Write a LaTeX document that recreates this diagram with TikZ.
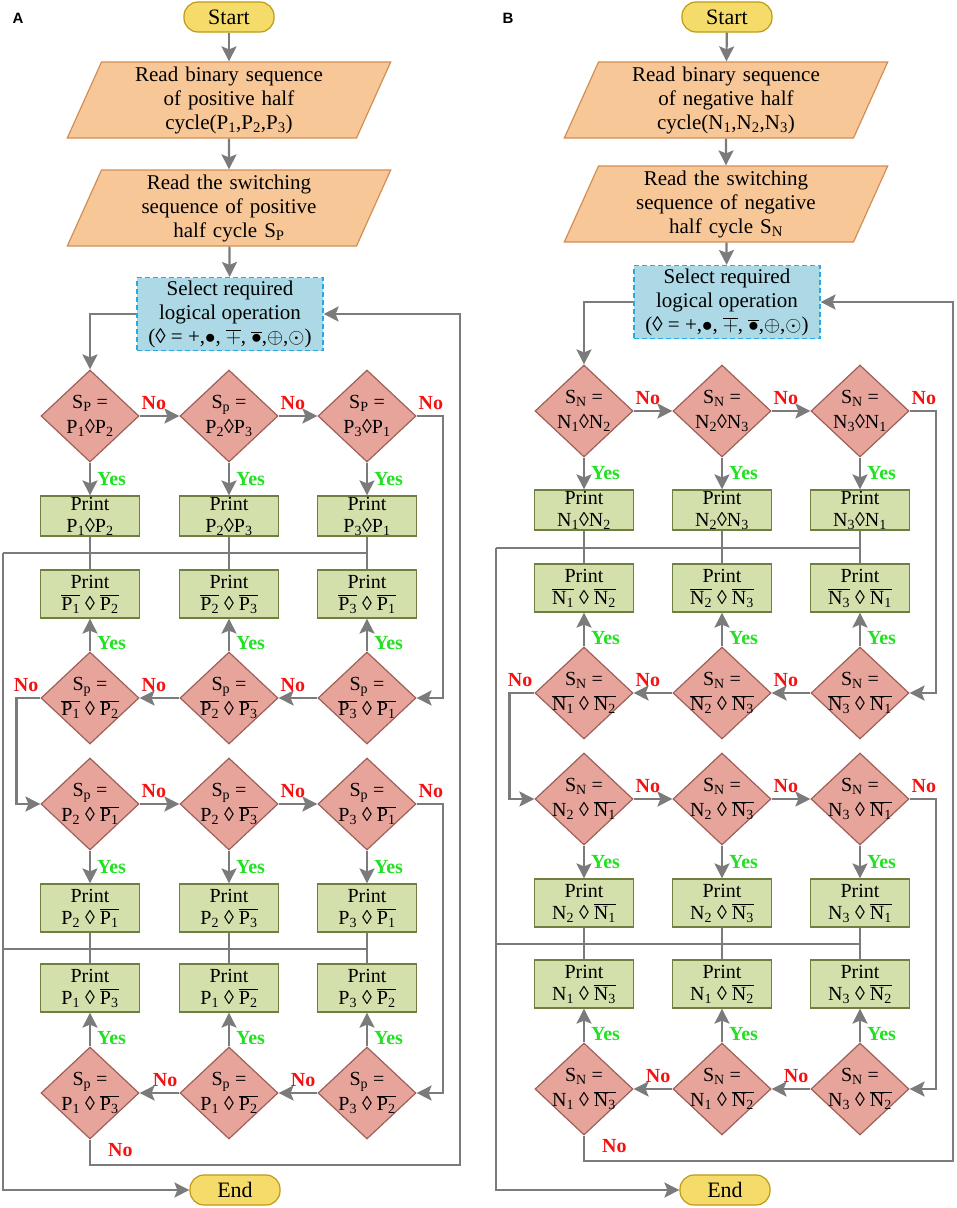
\documentclass[tikz,border=0pt]{standalone}
\usepackage{fontspec}
\setmainfont{Liberation Serif}
\setsansfont{Liberation Sans}
\usetikzlibrary{shapes.geometric,arrows.meta}
\definecolor{linegray}{HTML}{7B7B7B}
\definecolor{termfill}{HTML}{F5DC6A}
\definecolor{termedge}{HTML}{BF9A10}
\definecolor{iofill}{HTML}{F8C797}
\definecolor{ioedge}{HTML}{D18F55}
\definecolor{selfill}{HTML}{ADD9E6}
\definecolor{seledge}{HTML}{27A9E1}
\definecolor{decfill}{HTML}{E6A49B}
\definecolor{decedge}{HTML}{9E5F58}
\definecolor{prfill}{HTML}{D4E0AB}
\definecolor{predge}{HTML}{6F7F3F}
\definecolor{yesgreen}{HTML}{22E022}
\definecolor{nored}{HTML}{F21212}
% signal with subscript, and its complement
\newcommand{\sg}[2]{$\mathrm{#1}_{\mathrm{#2}}$}
\newcommand{\nsg}[2]{$\overline{\mathrm{#1}_{\mathrm{#2}}}$}
% two lines of text that do not widen a diamond
\newcommand{\dtxt}[2]{\makebox[0pt]{\begin{tabular}{@{}c@{}}#1\\#2\end{tabular}}}
\begin{document}
\begin{tikzpicture}[x=1pt, y=-1pt,
  term/.style={rectangle, rounded corners=14pt, fill=termfill, draw=termedge, line width=1.2pt, minimum width=90pt, minimum height=30pt, inner sep=0pt, font=\fontsize{22}{24}\selectfont},
  io/.style={trapezium, trapezium left angle=63, trapezium right angle=117, trapezium stretches body, fill=iofill, draw=ioedge, line width=1.2pt, text width=255pt, align=center, inner sep=0pt, minimum height=76pt, font=\fontsize{21}{24}\selectfont},
  sel/.style={rectangle, fill=selfill, draw=seledge, dash pattern=on 5pt off 3pt, line width=1.2pt, minimum width=186pt, minimum height=73pt, inner sep=0pt, align=center, font=\fontsize{21}{24}\selectfont},
  dec/.style={diamond, fill=decfill, draw=decedge, line width=1.2pt, minimum width=98pt, minimum height=92pt, inner sep=0pt, font=\fontsize{20}{25}\selectfont},
  prt/.style={rectangle, fill=prfill, draw=predge, line width=1.2pt, minimum width=99pt, minimum height=48pt, inner sep=0pt, align=center, font=\fontsize{20}{22}\selectfont},
  line/.style={draw=linegray, line width=2.2pt},
  arr/.style={line, -{Stealth[length=15pt, width=15pt, inset=3pt]}},
  yeslbl/.style={text=yesgreen, font=\bfseries\fontsize{20}{20}\selectfont, inner sep=1pt, xshift=5pt},
  nolbl/.style={text=nored, font=\bfseries\fontsize{20}{20}\selectfont, inner sep=1pt, yshift=4pt},
  panel/.style={font=\sffamily\bfseries\fontsize{15}{15}\selectfont}]
\useasboundingbox (0,0) rectangle (957,1208);

% ---------- panel A : positive half cycle
\node[panel] (labA) at (18,18) {A};
\node[term] (startA) at (229,17) {Start};
\node[io] (readA1) at (229,100) {Read binary sequence\\of positive half\\cycle(\sg{P}{1},\sg{P}{2},\sg{P}{3})};
\node[io] (readA2) at (229,208) {Read the switching\\sequence of positive\\half cycle \sg{S}{P}};
\node[sel] (selA) at (230,314) {Select required\\logical operation\\(◊ = +,$\bullet$, $\overline{+}$, $\overline{\bullet}$,$\oplus$,$\odot$)};
\node[dec] (dA11) at (90,416) {\dtxt{\sg{S}{P} =}{\sg{P}{1}◊\sg{P}{2}}};
\node[dec] (dA12) at (229,416) {\dtxt{\sg{S}{p} =}{\sg{P}{2}◊\sg{P}{3}}};
\node[dec] (dA13) at (367,416) {\dtxt{\sg{S}{P} =}{\sg{P}{3}◊\sg{P}{1}}};
\node[prt, minimum height=40pt] (pA11) at (90,516) {Print\\\sg{P}{1}◊\sg{P}{2}};
\node[prt, minimum height=40pt] (pA12) at (229,516) {Print\\\sg{P}{2}◊\sg{P}{3}};
\node[prt, minimum height=40pt] (pA13) at (367,516) {Print\\\sg{P}{3}◊\sg{P}{1}};
\node[prt] (pA21) at (90,594) {Print\\\nsg{P}{1} ◊ \nsg{P}{2}};
\node[prt] (pA22) at (229,594) {Print\\\nsg{P}{2} ◊ \nsg{P}{3}};
\node[prt] (pA23) at (367,594) {Print\\\nsg{P}{3} ◊ \nsg{P}{1}};
\node[dec] (dA21) at (90,698) {\dtxt{\sg{S}{p} =}{\nsg{P}{1} ◊ \nsg{P}{2}}};
\node[dec] (dA22) at (229,698) {\dtxt{\sg{S}{p} =}{\nsg{P}{2} ◊ \nsg{P}{3}}};
\node[dec] (dA23) at (367,698) {\dtxt{\sg{S}{p} =}{\nsg{P}{3} ◊ \nsg{P}{1}}};
\node[dec] (dA31) at (90,804) {\dtxt{\sg{S}{p} =}{\sg{P}{2} ◊ \nsg{P}{1}}};
\node[dec] (dA32) at (229,804) {\dtxt{\sg{S}{p} =}{\sg{P}{2} ◊ \nsg{P}{3}}};
\node[dec] (dA33) at (367,804) {\dtxt{\sg{S}{p} =}{\sg{P}{3} ◊ \nsg{P}{1}}};
\node[prt] (pA31) at (90,908) {Print\\\sg{P}{2} ◊ \nsg{P}{1}};
\node[prt] (pA32) at (229,908) {Print\\\sg{P}{2} ◊ \nsg{P}{3}};
\node[prt] (pA33) at (367,908) {Print\\\sg{P}{3} ◊ \nsg{P}{1}};
\node[prt] (pA41) at (90,988) {Print\\\sg{P}{1} ◊ \nsg{P}{3}};
\node[prt] (pA42) at (229,988) {Print\\\sg{P}{1} ◊ \nsg{P}{2}};
\node[prt] (pA43) at (367,988) {Print\\\sg{P}{3} ◊ \nsg{P}{2}};
\node[dec] (dA41) at (90,1093) {\dtxt{\sg{S}{p} =}{\sg{P}{1} ◊ \nsg{P}{3}}};
\node[dec] (dA42) at (229,1093) {\dtxt{\sg{S}{p} =}{\sg{P}{1} ◊ \nsg{P}{2}}};
\node[dec] (dA43) at (367,1093) {\dtxt{\sg{S}{p} =}{\sg{P}{3} ◊ \nsg{P}{2}}};
\node[term] (endA) at (235,1190) {End};
\coordinate (jA1) at (3,553);
\coordinate (jA2) at (3,949);
\coordinate (rA) at (460,1165);

\draw[arr] (startA) -- (readA1);
\draw[arr] (readA1) -- (readA2);
\draw[arr] (readA2) -- (selA);
\draw[arr] (selA.west) -| (dA11.north);
\draw[arr] (dA11) -- node[nolbl, pos=0, anchor=south west] {No} (dA12);
\draw[arr] (dA12) -- node[nolbl, pos=0, anchor=south west] {No} (dA13);
\draw[arr] (dA13.east) -- node[nolbl, pos=0, anchor=south west] {No} ++(26,0) |- (dA23.east);
\draw[arr] (dA11) -- node[yeslbl, right] {Yes} (pA11);
\draw[arr] (dA12) -- node[yeslbl, right] {Yes} (pA12);
\draw[arr] (dA13) -- node[yeslbl, right] {Yes} (pA13);
\draw[line] (pA11) -- (pA21);
\draw[line] (pA12) -- (pA22);
\draw[line] (pA13) -- (pA23);
\draw[line] (pA13 |- jA1) -- (jA1);
\draw[arr] (jA1) |- (endA);
\draw[arr] (dA21) -- node[yeslbl, right, pos=0.25] {Yes} (pA21);
\draw[arr] (dA22) -- node[yeslbl, right, pos=0.25] {Yes} (pA22);
\draw[arr] (dA23) -- node[yeslbl, right, pos=0.25] {Yes} (pA23);
\draw[arr] (dA23) -- node[nolbl, pos=1, anchor=south west] {No} (dA22);
\draw[arr] (dA22) -- node[nolbl, pos=1, anchor=south west] {No} (dA21);
\draw[arr] (dA21.west) -- node[nolbl, pos=0, anchor=south east] {No} ++(-24,0) |- (dA31.west);
\draw[arr] (dA31) -- node[nolbl, pos=0, anchor=south west] {No} (dA32);
\draw[arr] (dA32) -- node[nolbl, pos=0, anchor=south west] {No} (dA33);
\draw[arr] (dA33.east) -- node[nolbl, pos=0, anchor=south west] {No} ++(26,0) |- (dA43.east);
\draw[arr] (dA31) -- node[yeslbl, right] {Yes} (pA31);
\draw[arr] (dA32) -- node[yeslbl, right] {Yes} (pA32);
\draw[arr] (dA33) -- node[yeslbl, right] {Yes} (pA33);
\draw[line] (pA31) -- (pA41);
\draw[line] (pA32) -- (pA42);
\draw[line] (pA33) -- (pA43);
\draw[line] (pA33 |- jA2) -- (jA2);
\draw[arr] (dA41) -- node[yeslbl, right, pos=0.25] {Yes} (pA41);
\draw[arr] (dA42) -- node[yeslbl, right, pos=0.25] {Yes} (pA42);
\draw[arr] (dA43) -- node[yeslbl, right, pos=0.25] {Yes} (pA43);
\draw[arr] (dA43) -- node[nolbl, pos=0, anchor=south east] {No} (dA42);
\draw[arr] (dA42) -- node[nolbl, pos=0, anchor=south east] {No} (dA41);
\draw[arr] (dA41.south) |- node[nolbl, pos=0, anchor=north west, xshift=16pt, yshift=-6pt] {No} (rA) |- (selA.east);

% ---------- panel B : negative half cycle
\node[panel] (labB) at (508,18) {B};
\node[term] (startB) at (727,17) {Start};
\node[io] (readB1) at (726,100) {Read binary sequence\\of negative half\\cycle(\sg{N}{1},\sg{N}{2},\sg{N}{3})};
\node[io] (readB2) at (726,204) {Read the switching\\sequence of negative\\half cycle \sg{S}{N}};
\node[sel] (selB) at (727,302) {Select required\\logical operation\\(◊ = +,$\bullet$, $\overline{+}$, $\overline{\bullet}$,$\oplus$,$\odot$)};
\node[dec] (dB11) at (584,411) {\dtxt{\sg{S}{N} =}{\sg{N}{1}◊\sg{N}{2}}};
\node[dec] (dB12) at (722,411) {\dtxt{\sg{S}{N} =}{\sg{N}{2}◊\sg{N}{3}}};
\node[dec] (dB13) at (860,411) {\dtxt{\sg{S}{N} =}{\sg{N}{3}◊\sg{N}{1}}};
\node[prt, minimum height=40pt] (pB11) at (584,510) {Print\\\sg{N}{1}◊\sg{N}{2}};
\node[prt, minimum height=40pt] (pB12) at (722,510) {Print\\\sg{N}{2}◊\sg{N}{3}};
\node[prt, minimum height=40pt] (pB13) at (860,510) {Print\\\sg{N}{3}◊\sg{N}{1}};
\node[prt] (pB21) at (584,588) {Print\\\nsg{N}{1} ◊ \nsg{N}{2}};
\node[prt] (pB22) at (722,588) {Print\\\nsg{N}{2} ◊ \nsg{N}{3}};
\node[prt] (pB23) at (860,588) {Print\\\nsg{N}{3} ◊ \nsg{N}{1}};
\node[dec] (dB21) at (584,693) {\dtxt{\sg{S}{N} =}{\nsg{N}{1} ◊ \nsg{N}{2}}};
\node[dec] (dB22) at (722,693) {\dtxt{\sg{S}{N} =}{\nsg{N}{2} ◊ \nsg{N}{3}}};
\node[dec] (dB23) at (860,693) {\dtxt{\sg{S}{N} =}{\nsg{N}{3} ◊ \nsg{N}{1}}};
\node[dec] (dB31) at (584,799) {\dtxt{\sg{S}{N} =}{\sg{N}{2} ◊ \nsg{N}{1}}};
\node[dec] (dB32) at (722,799) {\dtxt{\sg{S}{N} =}{\sg{N}{2} ◊ \nsg{N}{3}}};
\node[dec] (dB33) at (860,799) {\dtxt{\sg{S}{N} =}{\sg{N}{3} ◊ \nsg{N}{1}}};
\node[prt] (pB31) at (584,903) {Print\\\sg{N}{2} ◊ \nsg{N}{1}};
\node[prt] (pB32) at (722,903) {Print\\\sg{N}{2} ◊ \nsg{N}{3}};
\node[prt] (pB33) at (860,903) {Print\\\sg{N}{3} ◊ \nsg{N}{1}};
\node[prt] (pB41) at (584,984) {Print\\\sg{N}{1} ◊ \nsg{N}{3}};
\node[prt] (pB42) at (722,984) {Print\\\sg{N}{1} ◊ \nsg{N}{2}};
\node[prt] (pB43) at (860,984) {Print\\\sg{N}{3} ◊ \nsg{N}{2}};
\node[dec] (dB41) at (584,1089) {\dtxt{\sg{S}{N} =}{\sg{N}{1} ◊ \nsg{N}{3}}};
\node[dec] (dB42) at (722,1089) {\dtxt{\sg{S}{N} =}{\sg{N}{1} ◊ \nsg{N}{2}}};
\node[dec] (dB43) at (860,1089) {\dtxt{\sg{S}{N} =}{\sg{N}{3} ◊ \nsg{N}{2}}};
\node[term] (endB) at (725,1190) {End};
\coordinate (jB1) at (496,548);
\coordinate (jB2) at (496,944);
\coordinate (rB) at (953,1161);

\draw[arr] (startB) -- (readB1);
\draw[arr] (readB1) -- (readB2);
\draw[arr] (readB2) -- (selB);
\draw[arr] (selB.west) -| (dB11.north);
\draw[arr] (dB11) -- node[nolbl, pos=0, anchor=south west] {No} (dB12);
\draw[arr] (dB12) -- node[nolbl, pos=0, anchor=south west] {No} (dB13);
\draw[arr] (dB13.east) -- node[nolbl, pos=0, anchor=south west] {No} ++(26,0) |- (dB23.east);
\draw[arr] (dB11) -- node[yeslbl, right] {Yes} (pB11);
\draw[arr] (dB12) -- node[yeslbl, right] {Yes} (pB12);
\draw[arr] (dB13) -- node[yeslbl, right] {Yes} (pB13);
\draw[line] (pB11) -- (pB21);
\draw[line] (pB12) -- (pB22);
\draw[line] (pB13) -- (pB23);
\draw[line] (pB13 |- jB1) -- (jB1);
\draw[arr] (jB1) |- (endB);
\draw[arr] (dB21) -- node[yeslbl, right, pos=0.25] {Yes} (pB21);
\draw[arr] (dB22) -- node[yeslbl, right, pos=0.25] {Yes} (pB22);
\draw[arr] (dB23) -- node[yeslbl, right, pos=0.25] {Yes} (pB23);
\draw[arr] (dB23) -- node[nolbl, pos=1, anchor=south west] {No} (dB22);
\draw[arr] (dB22) -- node[nolbl, pos=1, anchor=south west] {No} (dB21);
\draw[arr] (dB21.west) -- node[nolbl, pos=0, anchor=south east] {No} ++(-25,0) |- (dB31.west);
\draw[arr] (dB31) -- node[nolbl, pos=0, anchor=south west] {No} (dB32);
\draw[arr] (dB32) -- node[nolbl, pos=0, anchor=south west] {No} (dB33);
\draw[arr] (dB33.east) -- node[nolbl, pos=0, anchor=south west] {No} ++(26,0) |- (dB43.east);
\draw[arr] (dB31) -- node[yeslbl, right] {Yes} (pB31);
\draw[arr] (dB32) -- node[yeslbl, right] {Yes} (pB32);
\draw[arr] (dB33) -- node[yeslbl, right] {Yes} (pB33);
\draw[line] (pB31) -- (pB41);
\draw[line] (pB32) -- (pB42);
\draw[line] (pB33) -- (pB43);
\draw[line] (pB33 |- jB2) -- (jB2);
\draw[arr] (dB41) -- node[yeslbl, right, pos=0.25] {Yes} (pB41);
\draw[arr] (dB42) -- node[yeslbl, right, pos=0.25] {Yes} (pB42);
\draw[arr] (dB43) -- node[yeslbl, right, pos=0.25] {Yes} (pB43);
\draw[arr] (dB43) -- node[nolbl, pos=0, anchor=south east] {No} (dB42);
\draw[arr] (dB42) -- node[nolbl, pos=0, anchor=south east] {No} (dB41);
\draw[arr] (dB41.south) |- node[nolbl, pos=0, anchor=north west, xshift=16pt, yshift=-6pt] {No} (rB) |- (selB.east);
\end{tikzpicture}
\end{document}
